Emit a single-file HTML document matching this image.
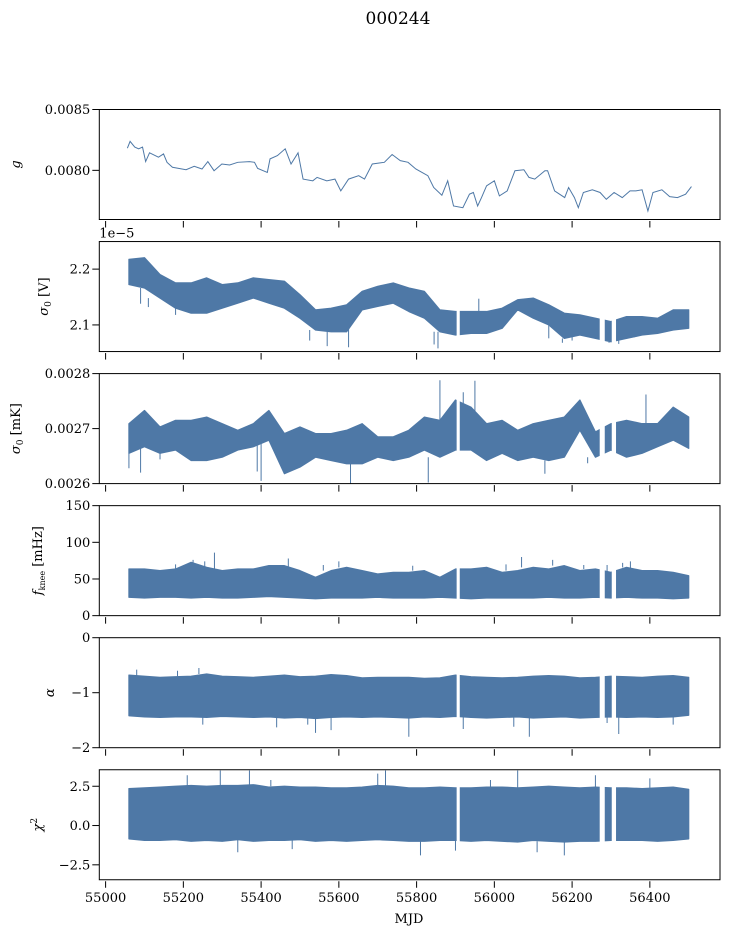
<!DOCTYPE html>
<html><head><meta charset="utf-8"><style>
html,body{margin:0;padding:0;background:#fff;}
svg{display:block;font-family:"DejaVu Serif","Liberation Serif",serif;}
</style></head><body>
<svg id="fig" width="729" height="936" viewBox="0 0 729 936" xmlns="http://www.w3.org/2000/svg">
<rect width="729" height="936" fill="#fff"/>
<text x="398" y="24" font-size="17" text-anchor="middle">000244</text>
</svg>
<script>
// ---- data ----
const gMjd = [55056,55063,55075,55085,55095,55103,55113,55136,55149,55158,55172,55207,55228,55248,55263,55279,55299,55319,55340,55370,55383,55391,55416,55423,55442,55462,55477,55495,55508,55533,55544,55569,55590,55605,55625,55651,55666,55686,55717,55737,55758,55778,55798,55814,55829,55844,55865,55880,55895,55919,55936,55946,55957,55967,55980,56000,56013,56033,56053,56076,56089,56104,56130,56137,56155,56181,56191,56206,56216,56229,56252,56272,56288,56308,56329,56349,56364,56380,56395,56408,56431,56451,56471,56492,56507];
const gVal = [0.008182,0.008238,0.008191,0.008177,0.008191,0.008072,0.008144,0.008108,0.008135,0.008066,0.008025,0.008005,0.008033,0.008011,0.008072,0.007997,0.008052,0.008044,0.008066,0.008072,0.008066,0.008016,0.007983,0.008094,0.008121,0.008177,0.008052,0.008144,0.007928,0.007914,0.007942,0.007914,0.007928,0.007831,0.007928,0.007956,0.007928,0.008052,0.008066,0.00813,0.00808,0.008066,0.008011,0.007983,0.007956,0.007859,0.007795,0.007914,0.007707,0.007693,0.007804,0.007818,0.007707,0.007776,0.007873,0.007914,0.00779,0.007831,0.007997,0.008005,0.007942,0.007928,0.007997,0.007997,0.007831,0.007776,0.007859,0.007776,0.007693,0.007818,0.007840,0.007818,0.007762,0.007818,0.007776,0.007831,0.007831,0.007840,0.007666,0.007818,0.007840,0.007784,0.007776,0.007804,0.007867];

const binMjd = [55060,55100,55140,55180,55220,55260,55300,55340,55380,55420,55460,55500,55540,55580,55620,55660,55700,55740,55780,55820,55860,55900,55940,55980,56020,56060,56100,56140,56180,56220,56260,56300,56340,56380,56420,56460,56500];
const gaps = [[55903,55911],[56271,56284],[56302,56313]];

const vUp = [2.2175,2.2205,2.1904,2.1753,2.1753,2.1843,2.1723,2.1753,2.1843,2.1813,2.1783,2.1542,2.1270,2.1300,2.1361,2.1602,2.1692,2.1753,2.1662,2.1602,2.1270,2.1240,2.1240,2.1240,2.1300,2.1451,2.1481,2.1361,2.1210,2.1180,2.1120,2.1060,2.1150,2.1150,2.1120,2.1270,2.1270];
const vLo = [2.1723,2.1662,2.1481,2.1300,2.1210,2.1210,2.1300,2.1390,2.1481,2.1390,2.1300,2.1120,2.0909,2.0878,2.0878,2.1270,2.1331,2.1390,2.1240,2.1120,2.0878,2.0818,2.0848,2.0848,2.0939,2.1270,2.1120,2.0999,2.0758,2.0818,2.0758,2.0698,2.0758,2.0818,2.0848,2.0909,2.0939];

const mUp = [0.002709,0.002733,0.002703,0.002715,0.002715,0.002721,0.002709,0.002697,0.002709,0.002733,0.002691,0.002703,0.002691,0.002691,0.002697,0.002709,0.002685,0.002685,0.002697,0.002721,0.002715,0.002752,0.002739,0.002709,0.002715,0.002697,0.002709,0.002715,0.002721,0.002752,0.002694,0.002709,0.002715,0.002709,0.002709,0.002739,0.002721];
const mLo = [0.002655,0.002667,0.002655,0.002661,0.002642,0.002642,0.002648,0.002661,0.002667,0.002679,0.002618,0.00263,0.002648,0.002642,0.002636,0.002636,0.002648,0.002642,0.002648,0.002661,0.002648,0.002661,0.002661,0.002642,0.002655,0.002642,0.002648,0.002642,0.002648,0.002697,0.002648,0.002661,0.002648,0.002655,0.002667,0.002679,0.002664];

const fUp = [63.6,63.6,61.4,63.6,72.7,65.9,61.4,63.6,63.6,68.2,68.2,61.4,52.3,61.4,65.9,61.4,56.8,59.1,59.1,61.4,52.3,63.6,63.6,65.9,59.1,61.4,65.9,63.6,68.2,61.4,63.6,59.1,65.9,61.4,61.4,59.1,54.5];
const fLo = [25,24,25,25,24,25,24,24,25,26,25,24,23,24,24,24,25,24,24,24,25,24,23,24,24,24,24,25,24,24,25,24,25,24,24,23,24];

const aUp = [-0.68,-0.70,-0.72,-0.71,-0.70,-0.66,-0.70,-0.71,-0.72,-0.70,-0.68,-0.71,-0.70,-0.67,-0.69,-0.73,-0.72,-0.72,-0.72,-0.74,-0.73,-0.68,-0.71,-0.72,-0.73,-0.72,-0.70,-0.69,-0.70,-0.73,-0.72,-0.70,-0.71,-0.72,-0.70,-0.69,-0.72];
const aLo = [-1.42,-1.44,-1.45,-1.44,-1.44,-1.45,-1.43,-1.44,-1.45,-1.44,-1.46,-1.45,-1.47,-1.45,-1.44,-1.45,-1.44,-1.45,-1.46,-1.44,-1.45,-1.43,-1.45,-1.46,-1.45,-1.44,-1.46,-1.45,-1.44,-1.46,-1.45,-1.44,-1.45,-1.44,-1.45,-1.44,-1.41];

const cUp = [2.35,2.40,2.45,2.50,2.55,2.50,2.55,2.55,2.60,2.45,2.50,2.45,2.45,2.40,2.40,2.45,2.55,2.50,2.40,2.40,2.45,2.40,2.40,2.45,2.45,2.40,2.45,2.50,2.45,2.40,2.45,2.40,2.40,2.35,2.40,2.45,2.30];
const cLo = [-0.85,-0.95,-0.95,-0.90,-1.00,-0.95,-1.00,-0.90,-1.00,-0.95,-0.95,-0.90,-1.00,-0.95,-1.00,-0.95,-0.90,-0.95,-1.00,-1.00,-0.95,-0.95,-1.00,-0.95,-1.00,-1.05,-0.95,-1.00,-1.05,-1.00,-1.00,-0.95,-0.95,-0.95,-1.00,-0.95,-0.85];

const vSpikesMjd = [55090,55110,55180,55525,55570,55625,55855,55845,55960,56140,56175,56200,56295,56320,56360];
const vSpikesVal = [2.138,2.132,2.118,2.072,2.062,2.060,2.058,2.065,2.147,2.076,2.068,2.072,2.068,2.066,2.078];
const mSpikesMjd = [55060,55090,55140,55390,55400,55630,55655,55830,55860,55920,55950,56130,56240,56390];
const mSpikesVal = [0.002628,0.002620,0.002644,0.002622,0.002605,0.002600,0.002652,0.002602,0.002788,0.002766,0.002787,0.002618,0.002637,0.002762];
const fSpikesMjd = [55180,55225,55255,55280,55470,55560,55600,55790,56030,56070,56150,56230,56290,56330,56350];
const fSpikesVal = [70,76,74,86,78,69,74,68,70,80,76,69,69,72,74];
const aSpikesMjd = [55080,55185,55240,55250,55440,55520,55540,55580,55780,55920,56050,56090,56290,56320,56460];
const aSpikesVal = [-0.58,-0.60,-0.55,-1.58,-1.63,-1.58,-1.73,-1.68,-1.80,-1.66,-1.62,-1.80,-1.55,-1.75,-1.58];
const cSpikesMjd = [55210,55295,55340,55370,55425,55480,55700,55720,55810,55900,55990,56060,56110,56180,56260,56400];
const cSpikesVal = [3.2,3.5,-1.7,3.5,2.9,-1.5,3.3,3.5,-1.9,-1.6,2.9,3.5,-1.7,-1.9,3.2,3.0];

const xTicks = [55000,55200,55400,55600,55800,56000,56200,56400];
const xTickLabels = ["55000","55200","55400","55600","55800","56000","56200","56400"];

// ---- layout ----
const NS = "http://www.w3.org/2000/svg";
const svg = document.getElementById('fig');
const L = 99.3, R = 720, H = 110, T0 = 109.5, STEP = 132.05;
const COL = "#4e78a6";
function xS(m){ return 105.6 + (m - 55000) * (77.75 / 200); }
function mk(tag, attrs, parent){ const e = document.createElementNS(NS, tag); for (const k in attrs) e.setAttribute(k, attrs[k]); (parent||svg).appendChild(e); return e; }

const panels = [
  {name:'gain', dom:[0.007596,0.0085], ticks:[0.0080,0.0085], labels:['0.0080','0.0085'], ylabel:'g', ylx:20},
  {name:'sigma0-volts', dom:[2.0523,2.2494], ticks:[2.1,2.2], labels:['2.1','2.2'], ylabel:'σ0 [V]', ylx:48},
  {name:'sigma0-mk', dom:[0.0026,0.0028], ticks:[0.0026,0.0027,0.0028], labels:['0.0026','0.0027','0.0028'], ylabel:'σ0 [mK]', ylx:20},
  {name:'fknee', dom:[0,150], ticks:[0,50,100,150], labels:['0','50','100','150'], ylabel:'fknee [mHz]', ylx:42},
  {name:'alpha', dom:[-2,0], ticks:[-2,-1,0], labels:['−2','−1','0'], ylabel:'α', ylx:54},
  {name:'chi2', dom:[-3.45,3.55], ticks:[-2.5,0,2.5], labels:['−2.5','0.0','2.5'], ylabel:'χ2', ylx:42}
];
const bands = [null,[vUp,vLo,vSpikesMjd,vSpikesVal],[mUp,mLo,mSpikesMjd,mSpikesVal],[fUp,fLo,fSpikesMjd,fSpikesVal],[aUp,aLo,aSpikesMjd,aSpikesVal],[cUp,cLo,cSpikesMjd,cSpikesVal]];

panels.forEach((p, i) => {
  const top = T0 + i * STEP, bot = top + H;
  const yS = v => bot - (v - p.dom[0]) / (p.dom[1] - p.dom[0]) * H;
  const g = mk('g', {});
  
  
  const cid = 'clip' + i;
  const cp = mk('clipPath', {id: cid}, g);
  mk('rect', {x: L, y: top, width: R - L, height: H}, cp);
  const dg = mk('g', {'clip-path': 'url(#' + cid + ')'}, g);
  if (i === 0) {
    const pts = gMjd.map((m, k) => xS(m).toFixed(2) + ',' + yS(gVal[k]).toFixed(2)).join(' ');
    const pl = mk('polyline', {points: pts, fill: 'none', stroke: COL, 'stroke-width': 1}, dg);
    
    
  } else {
    const [up, lo, sm, sv] = bands[i];
    let d = 'M' + binMjd.map((m, k) => xS(m).toFixed(2) + ',' + yS(up[k]).toFixed(2)).join(' L');
    for (let k = binMjd.length - 1; k >= 0; k--) d += ' L' + xS(binMjd[k]).toFixed(2) + ',' + yS(lo[k]).toFixed(2);
    d += ' Z';
    const band = mk('path', {d: d, fill: COL, stroke: COL, 'stroke-width': 1.2, 'stroke-linejoin': 'round'}, dg);
    
    
    sm.forEach((m, k) => {
      const k2 = binMjd.findIndex(b => b >= m);
      const idx = k2 < 0 ? binMjd.length - 1 : k2;
      const base = sv[k] > up[idx] ? up[idx] : lo[idx];
      const s = mk('line', {x1: xS(m), x2: xS(m), y1: yS(base), y2: yS(sv[k]), stroke: COL, 'stroke-width': 1}, dg);
      
      
    });
    gaps.forEach(gp => {
      const r = mk('rect', {x: xS(gp[0]), y: top, width: xS(gp[1]) - xS(gp[0]), height: H, fill: '#fff'}, dg);
      
      
    });
  }
  const fr = mk('rect', {x: L, y: top, width: R - L, height: H, fill: 'none', stroke: '#000', 'stroke-width': 1}, g);
  
  
  p.ticks.forEach((t, k) => {
    const y = yS(t);
    mk('line', {x1: L - 7, x2: L, y1: y, y2: y, stroke: '#000', 'stroke-width': 1}, g);
    const tx = mk('text', {x: L - 9, y: y + 4.5, 'font-size': 13, 'text-anchor': 'end'}, g);
    tx.textContent = p.labels[k];
    
    
  });
  xTicks.forEach((t, k) => {
    const x = xS(t);
    mk('line', {x1: x, x2: x, y1: bot + 1.5, y2: bot + 8, stroke: '#000', 'stroke-width': 1}, g);
    if (i === 5) {
      const tx = mk('text', {x: x, y: bot + 22, 'font-size': 13, 'text-anchor': 'middle'}, g);
      tx.textContent = xTickLabels[k];
      
      
    }
  });
  const cy = top + H / 2;
  const yl = mk('text', {x: p.ylx, y: cy, 'font-size': 13, 'text-anchor': 'middle', transform: 'rotate(-90 ' + p.ylx + ' ' + cy + ')'}, g);
  
  
  if (p.ylabel === 'g') { yl.setAttribute('font-style', 'italic'); yl.textContent = 'g'; }
  else if (p.ylabel.startsWith('σ0')) { yl.innerHTML = '<tspan font-style="italic">σ</tspan><tspan font-size="9" dy="3">0</tspan><tspan dy="-3"> ' + p.ylabel.slice(3) + '</tspan>'; }
  else if (p.ylabel.startsWith('fknee')) { yl.innerHTML = '<tspan font-style="italic">f</tspan><tspan font-size="8" dy="3">knee</tspan><tspan dy="-3"> [mHz]</tspan>'; }
  else if (p.ylabel === 'α') { yl.setAttribute('font-style', 'italic'); yl.textContent = 'α'; }
  else { yl.innerHTML = '<tspan font-style="italic">χ</tspan><tspan font-size="9" dy="-5">2</tspan>'; }
  if (i === 1) {
    const ex = mk('text', {x: L, y: top - 4, 'font-size': 13}, g);
    ex.textContent = '1e−5';
    
    
  }
});
const xl = mk('text', {x: 409, y: 923, 'font-size': 13, 'text-anchor': 'middle'});
xl.textContent = 'MJD';


</script>
</body></html>
